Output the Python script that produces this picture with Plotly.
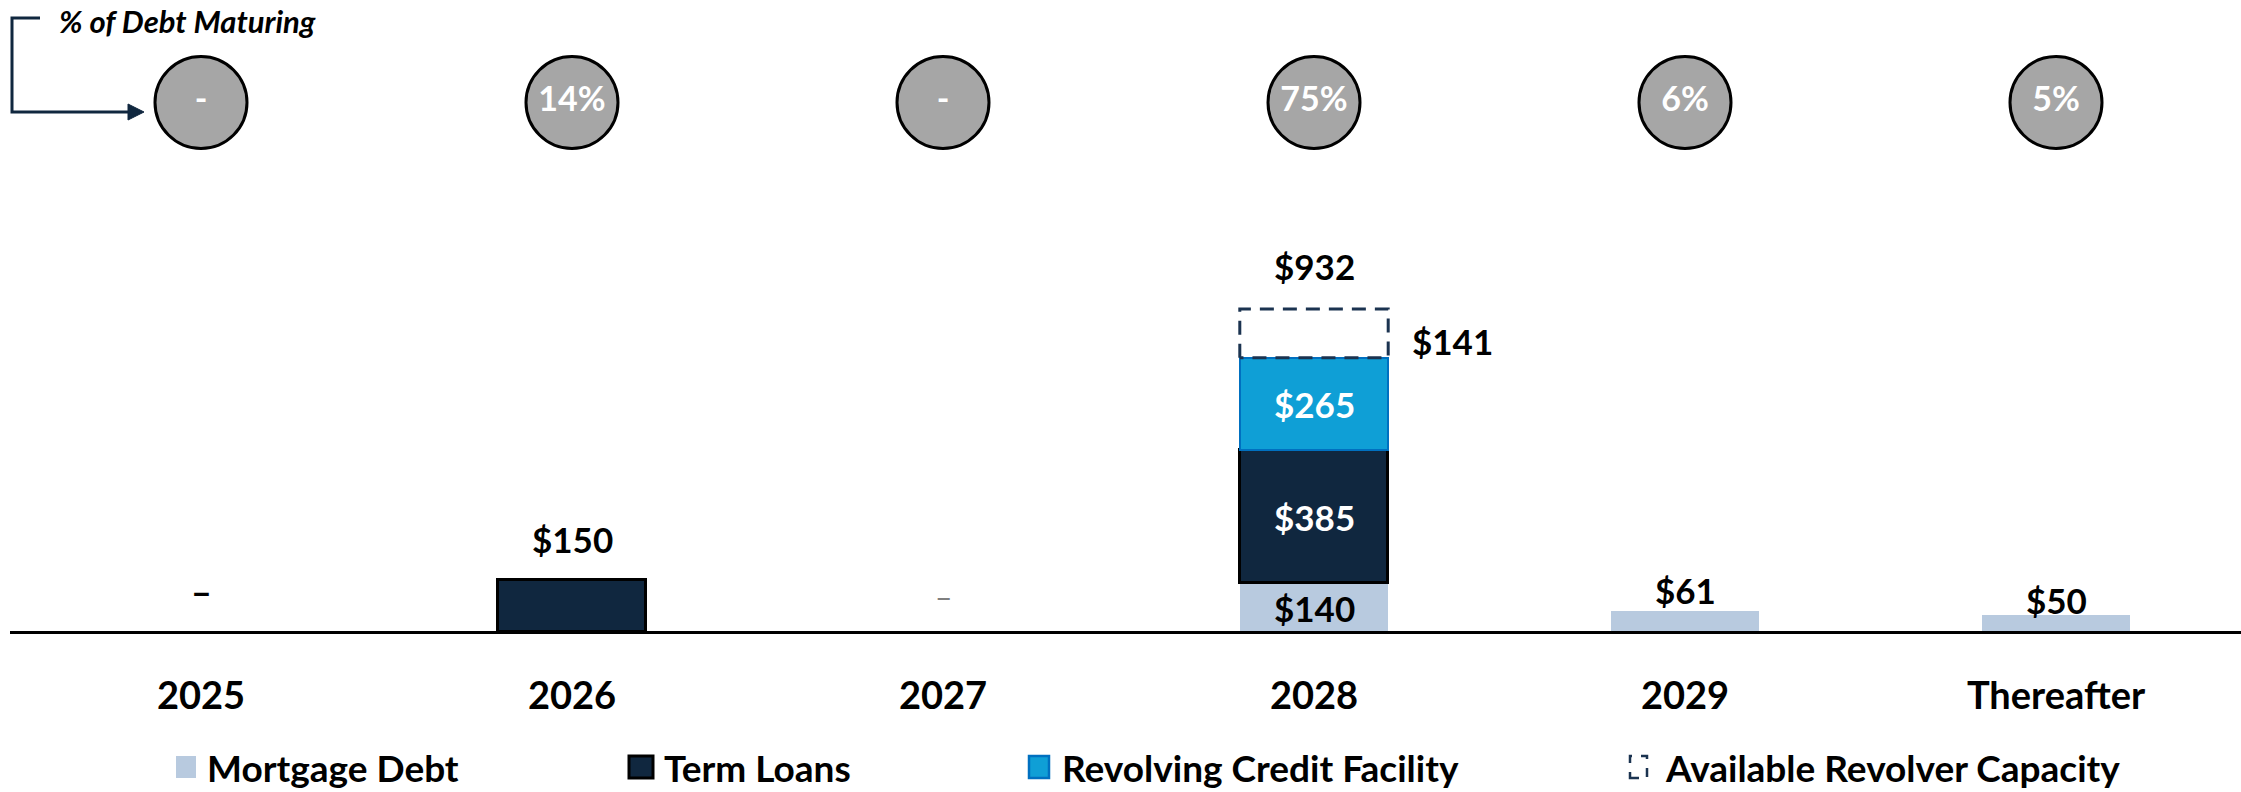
import plotly.graph_objects as go

# ---------------- data ----------------
categories = ["2025", "2026", "2027", "2028", "2029", "Thereafter"]
mortgage_debt = [0, 0, 0, 140, 61, 50]
term_loans = [0, 150, 0, 385, 0, 0]
revolving_credit = [0, 0, 0, 265, 0, 0]
available_revolver = [0, 0, 0, 141, 0, 0]
total_labels = [None, None, None, 932, None, None]
pct_maturing = ["-", "14%", "-", "75%", "6%", "5%"]
series_names = ["Mortgage Debt", "Term Loans", "Revolving Credit Facility",
                "Available Revolver Capacity"]

# ---------------- style / layout constants ----------------
W, H = 2241, 792
BASE_PX = 632          # pixel row of the zero line
PX_PER_UNIT = 0.347    # vertical scale
X0_PX, STEP_PX = 201, 371
AXIS_LEFT_PX = 10
BAR_W = 0.4
FONT = "Lato"
NAVY = "#10273F"
MORT = "#B8CADF"
REV = "#0F9FD6"
REV_LINE = "#0070C0"
DASH_NAVY = "#1B3350"
CIRCLE_FILL = "#A6A6A6"
label_gap_px = [0, 29, 0, 31, 9, 3]      # gap between bar top and outside label
dash_style = [("black", 36, "bold", 41), None, ("#7F7F7F", 30, "normal", 36), None, None, None]


def xp(px):
    return px / W


def yp(py):
    return 1 - py / H


x_idx = list(range(len(categories)))


def nz(vals):
    return [v if v else None for v in vals]


fig = go.Figure()

fig.add_trace(go.Bar(x=x_idx, y=nz(mortgage_debt), name=series_names[0], width=BAR_W,
                     marker=dict(color=MORT, line=dict(width=0)), showlegend=False))
fig.add_trace(go.Bar(x=x_idx, y=nz(term_loans), name=series_names[1], width=BAR_W,
                     marker=dict(color=NAVY, line=dict(color="black", width=3)), showlegend=False))
fig.add_trace(go.Bar(x=x_idx, y=nz(revolving_credit), name=series_names[2], width=BAR_W,
                     marker=dict(color=REV, line=dict(color=REV_LINE, width=2.5)), showlegend=False))

# available revolver capacity: dashed outline on top of the stack
for i, cap in enumerate(available_revolver):
    if cap:
        base = mortgage_debt[i] + term_loans[i] + revolving_credit[i]
        top = base + cap
        fig.add_trace(go.Scatter(
            x=[i - BAR_W / 2, i - BAR_W / 2, i + BAR_W / 2, i + BAR_W / 2, i - BAR_W / 2],
            y=[base, top, top, base, base], mode="lines", name=series_names[3],
            line=dict(color=DASH_NAVY, width=3, dash="14px,9px"), showlegend=False,
            hoverinfo="skip"))

# % of debt maturing circles
fig.add_trace(go.Scatter(
    x=x_idx, y=[0.5] * len(categories), yaxis="y2", mode="markers+text",
    text=pct_maturing, textposition="middle center",
    textfont=dict(family=FONT, size=34, color="white", weight="bold"),
    marker=dict(size=92, color=CIRCLE_FILL, line=dict(color="black", width=3)),
    showlegend=False, hoverinfo="skip"))

annotations = []
shapes = []
LBL = dict(family=FONT, size=35, weight="bold")

stacks = [mortgage_debt, term_loans, revolving_credit]
inside_colors = ["black", "white", "white"]
for i in x_idx:
    vals = [s[i] for s in stacks]
    nonzero = [k for k, v in enumerate(vals) if v]
    if len(nonzero) == 0:
        st = dash_style[i]
        if st:
            col, size, wt, gap = st
            annotations.append(dict(x=i, y=0, yshift=gap, text="–", showarrow=False,
                                    yanchor="middle",
                                    font=dict(family=FONT, size=size, color=col, weight=wt)))
    elif len(nonzero) == 1:
        v = vals[nonzero[0]]
        annotations.append(dict(x=i, y=v, yshift=label_gap_px[i] + 12, text=f"${v}",
                                showarrow=False, yanchor="middle",
                                font=dict(LBL, color="black")))
    else:
        base = 0
        for k, v in enumerate(vals):
            if v:
                annotations.append(dict(x=i, y=base + v / 2, text=f"${v}", showarrow=False,
                                        yanchor="middle", font=dict(LBL, color=inside_colors[k])))
            base += v
        cap = available_revolver[i]
        if cap:
            annotations.append(dict(x=i + BAR_W / 2, y=base + cap / 2, xshift=22, yshift=-8,
                                    text=f"${cap}", showarrow=False, xanchor="left",
                                    yanchor="middle", font=dict(LBL, color="black")))
        if total_labels[i]:
            annotations.append(dict(x=i, y=base + cap, yshift=label_gap_px[i] + 12,
                                    text=f"${total_labels[i]}", showarrow=False,
                                    yanchor="middle", font=dict(LBL, color="black")))

# header text and bracket arrow
annotations.append(dict(xref="paper", yref="paper", x=xp(57), y=yp(21), xanchor="left",
                        yanchor="middle", text="% of Debt Maturing", showarrow=False,
                        font=dict(family=FONT, size=31, color="black", weight="bold",
                                  style="italic")))
shapes.append(dict(type="path", xref="paper", yref="paper",
                   path=f"M{xp(40)},{yp(18)} L{xp(12)},{yp(18)} L{xp(12)},{yp(112)} L{xp(130)},{yp(112)}",
                   line=dict(color=NAVY, width=3)))
shapes.append(dict(type="path", xref="paper", yref="paper",
                   path=f"M{xp(128)},{yp(104)} L{xp(144)},{yp(112)} L{xp(128)},{yp(120)} Z",
                   line=dict(color=NAVY, width=1), fillcolor=NAVY))

# manual legend
leg_y0, leg_y1, leg_text_y = 756, 778, 767
legend_specs = [
    (176, 196, 205, dict(fillcolor=MORT, line=dict(width=0))),
    (629, 653, 662, dict(fillcolor=NAVY, line=dict(color="black", width=3))),
    (1029, 1049, 1060, dict(fillcolor=REV, line=dict(color=REV_LINE, width=2.5))),
    (1630, 1647, 1663, dict(fillcolor="rgba(0,0,0,0)", line=dict(color=DASH_NAVY, width=2.5, dash="dash"))),
]
for name, (mx0, mx1, tx, sty) in zip(series_names, legend_specs):
    shapes.append(dict(type="rect", xref="paper", yref="paper", x0=xp(mx0), x1=xp(mx1),
                       y0=yp(leg_y1), y1=yp(leg_y0), **sty))
    annotations.append(dict(xref="paper", yref="paper", x=xp(tx), y=yp(leg_text_y),
                            xanchor="left", yanchor="middle", text=name, showarrow=False,
                            font=dict(family=FONT, size=37, color="black", weight="bold")))

x_lo = -(X0_PX - AXIS_LEFT_PX) / STEP_PX
x_hi = x_lo + (W - AXIS_LEFT_PX) / STEP_PX

fig.update_layout(
    width=W, height=H, barmode="stack", bargap=0,
    paper_bgcolor="white", plot_bgcolor="white",
    margin=dict(l=0, r=0, t=0, b=0, autoexpand=False),
    showlegend=False,
    xaxis=dict(domain=[xp(AXIS_LEFT_PX), 1], range=[x_lo, x_hi], tickvals=x_idx,
               ticktext=categories, anchor="free", position=yp(BASE_PX),
               showline=True, linecolor="black", linewidth=3, showgrid=False,
               zeroline=False, ticks="", ticklabelstandoff=29,
               tickfont=dict(family=FONT, size=38, color="black", weight="bold")),
    yaxis=dict(range=[(BASE_PX - H) / PX_PER_UNIT, BASE_PX / PX_PER_UNIT], visible=False,
               showgrid=False, zeroline=False),
    yaxis2=dict(domain=[yp(150), yp(55)], range=[0, 1], visible=False, anchor="x"),
    annotations=annotations, shapes=shapes,
)

fig.write_html("out.html", config={"displayModeBar": False},
               post_script="document.body.style.margin='0';document.body.style.overflow='hidden';")
